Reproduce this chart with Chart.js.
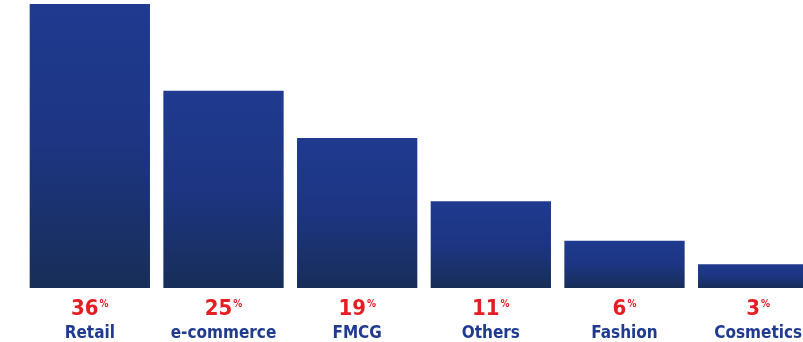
<!DOCTYPE html>
<html>
<head>
<meta charset="utf-8">
<script src="https://cdn.jsdelivr.net/npm/chart.js@4"></script>
<style>
  html, body { margin: 0; padding: 0; background: #fff; overflow: hidden; }
  #wrap { width: 803px; height: 342px; overflow: hidden; }
  canvas { display: block; }
</style>
</head>
<body>
<div id="wrap"><canvas id="sectorChart" width="825" height="342"></canvas></div>
<script>
// data
const categories = ['Retail', 'e-commerce', 'FMCG', 'Others', 'Fashion', 'Cosmetics'];
const shares = [36, 25, 19, 11, 6, 3];

const BAR_TOP = '#1f3a8f';
const BAR_MID = '#1d3582';
const BAR_BOTTOM = '#172e58';
const PCT_RED = '#e31e24';
const NAME_BLUE = '#1f3a8f';
const FONT = "'DejaVu Sans Condensed', 'DejaVu Sans', sans-serif";

// gradient per bar, from its own top down to the baseline
function barGradient(ctx) {
    const chart = ctx.chart;
    const area = chart.chartArea;
    if (!area || ctx.dataIndex === undefined) return BAR_TOP;
    const y = chart.scales.y;
    const top = y.getPixelForValue(shares[ctx.dataIndex]);
    const bottom = y.getPixelForValue(0);
    const g = chart.ctx.createLinearGradient(0, top, 0, bottom);
    g.addColorStop(0, BAR_TOP);
    g.addColorStop(0.5, BAR_MID);
    g.addColorStop(1, BAR_BOTTOM);
    return g;
}

// labels under each bar: red percentage with small % and blue name
const bottomLabels = {
    id: 'bottomLabels',
    afterDraw(chart) {
        const c = chart.ctx;
        const xs = chart.scales.x;
        c.save();
        c.textBaseline = 'alphabetic';
        categories.forEach((name, i) => {
            const cx = xs.getPixelForValue(i);

            const num = String(shares[i]);
            c.font = `bold 22px ${FONT}`;
            const wNum = c.measureText(num).width;
            c.font = `bold 10px ${FONT}`;
            const wPct = c.measureText('%').width;
            const start = cx - (wNum + wPct + 1) / 2;

            c.fillStyle = PCT_RED;
            c.textAlign = 'left';
            c.font = `bold 22px ${FONT}`;
            c.fillText(num, start, 315);
            c.font = `bold 10px ${FONT}`;
            c.fillText('%', start + wNum + 1, 307);

            c.fillStyle = NAME_BLUE;
            c.textAlign = 'center';
            c.font = `bold 17px ${FONT}`;
            c.fillText(name, cx, 338);
        });
        c.restore();
    }
};

new Chart(document.getElementById('sectorChart'), {
    type: 'bar',
    data: {
        labels: categories,
        datasets: [{
            data: shares,
            backgroundColor: barGradient,
            borderWidth: 0,
            barPercentage: 0.9,
            categoryPercentage: 1.0
        }]
    },
    options: {
        responsive: false,
        animation: false,
        layout: { padding: { left: 23, right: 0, top: 0, bottom: 54 } },
        plugins: {
            legend: { display: false },
            tooltip: { enabled: false }
        },
        scales: {
            x: { display: false },
            y: { display: false, min: 0, max: 36.5 }
        }
    },
    plugins: [bottomLabels]
});
</script>
</body>
</html>
